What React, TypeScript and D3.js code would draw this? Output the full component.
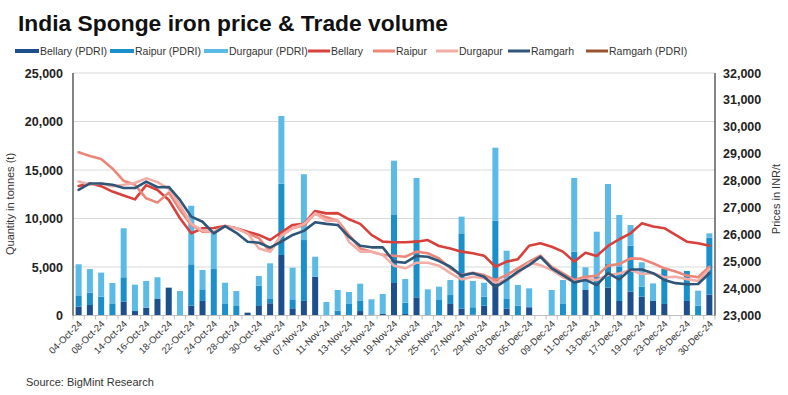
import React, { useEffect, useRef } from 'react';
import * as d3 from 'd3';

// trading days, one bar per day
const dates = [
  '04-Oct-24', '07-Oct-24', '08-Oct-24', '10-Oct-24', '14-Oct-24', '15-Oct-24', '16-Oct-24', '17-Oct-24',
  '18-Oct-24', '21-Oct-24', '22-Oct-24', '23-Oct-24', '24-Oct-24', '25-Oct-24', '28-Oct-24', '29-Oct-24',
  '30-Oct-24', '4-Nov-24', '5-Nov-24', '6-Nov-24', '07-Nov-24', '08-Nov-24', '11-Nov-24', '12-Nov-24',
  '13-Nov-24', '14-Nov-24', '15-Nov-24', '18-Nov-24', '19-Nov-24', '20-Nov-24', '21-Nov-24', '22-Nov-24',
  '25-Nov-24', '26-Nov-24', '27-Nov-24', '28-Nov-24', '29-Nov-24', '02-Dec-24', '03-Dec-24', '04-Dec-24',
  '05-Dec-24', '06-Dec-24', '09-Dec-24', '10-Dec-24', '11-Dec-24', '12-Dec-24', '13-Dec-24', '16-Dec-24',
  '17-Dec-24', '18-Dec-24', '19-Dec-24', '20-Dec-24', '23-Dec-24', '24-Dec-24', '26-Dec-24', '27-Dec-24',
  '30-Dec-24',
];

// trade volume (t)
const bellaryQty = [
  910, 1080, 0, 0, 1430, 460, 800, 1700, 2870, 0, 1010, 1500, 0, 0, 0, 290,
  980, 1260, 6240, 740, 1500, 4000, 0, 0, 0, 460, 100, 160, 3350, 160, 1870, 0,
  0, 1190, 700, 100, 1010, 3660, 700, 0, 850, 0, 0, 0, 0, 2630, 0, 2870,
  1500, 2460, 1940, 1500, 1190, 0, 1500, 0, 2150,
];
const raipurQty = [
  1100, 1270, 1940, 1190, 2510, 0, 0, 0, 0, 0, 4270, 1200, 4790, 1190, 980, 0,
  2090, 440, 7350, 930, 6280, 0, 0, 500, 1190, 1040, 0, 0, 7010, 1160, 5980, 0,
  1600, 920, 7770, 750, 930, 6120, 1000, 1010, 0, 0, 0, 1190, 6580, 0, 4000, 2430,
  3500, 4740, 1030, 0, 3600, 0, 3090, 1010, 5870,
];
const durgapurQty = [
  3270, 2440, 2480, 2160, 5050, 2720, 2760, 2240, 0, 2520, 6040, 1990, 3910, 2190, 1540, 0,
  1000, 3680, 6980, 3260, 6780, 2060, 1390, 2130, 1230, 1780, 1570, 2060, 5600, 2440, 6330, 2700,
  1370, 1550, 1720, 2710, 1440, 7520, 4980, 2140, 1950, 0, 2630, 2470, 7600, 2340, 4640, 8260,
  5360, 2130, 2510, 1810, 0, 0, 0, 1550, 450,
];

// prices (INR/t)
const bellaryPrice = [
  27810, 27900, 27800, 27600, 27450, 27310, 27840, 27660, 27290, 26610, 26050, 26240, 26250, 26320, 26240, 26110,
  25990, 25800, 26090, 26360, 26400, 26880, 26790, 26800, 26570, 26400, 25990, 25740, 25720, 25720, 25740, 25800,
  25580, 25490, 25370, 25310, 25220, 24810, 25000, 25090, 25590, 25680, 25550, 25370, 25000, 25330, 25210, 25580,
  25830, 26050, 26420, 26300, 26240, 25990, 25740, 25680, 25590,
];
const raipurPrice = [
  29060, 28920, 28810, 28460, 28000, 27850, 27350, 27190, 27560, 26920, 26360, 26110, 26100, 26320, 26240, 26050,
  25870, 25370, 25990, 26240, 26350, 26790, 26650, 26520, 25990, 25490, 25370, 25250, 25220, 25180, 25370, 25310,
  25120, 24750, 24500, 24590, 24500, 24320, 24500, 24750, 25000, 25220, 24800, 24560, 24320, 24440, 24470, 24850,
  24910, 25120, 25100, 24940, 24750, 24630, 24480, 24420, 24810,
];
const durgapurPrice = [
  27970, 27850, 27900, 27800, 27850, 27920, 28090, 27950, 27700, 27100, 26400, 26150, 26100, 26300, 26240, 26050,
  25490, 25370, 25950, 26240, 26400, 26790, 26520, 26520, 25740, 25370, 25370, 25250, 24850, 24750, 24960, 24960,
  24850, 24570, 24340, 24440, 24380, 24220, 24340, 24570, 24960, 24870, 24690, 24420, 24260, 24350, 24320, 24500,
  24560, 24690, 24540, 24570, 24420, 24440, 24350, 24280, 24730,
];
const ramgarhPrice = [
  27660, 27900, 27900, 27850, 27730, 27730, 27970, 27760, 27770, 27290, 26670, 26480, 26050, 26320, 26070, 25740,
  25700, 25520, 25740, 25990, 26140, 26460, 26400, 26360, 25920, 25590, 25530, 25530, 25000, 24960, 25210, 25180,
  25020, 24810, 24480, 24570, 24440, 24050, 24320, 24630, 24870, 25180, 24750, 24500, 24230, 24320, 24130, 24570,
  24340, 24710, 24710, 24570, 24320, 24200, 24160, 24170, 24570,
];

const leftTicks = [0, 5000, 10000, 15000, 20000, 25000];
const rightTicks = [23000, 24000, 25000, 26000, 27000, 28000, 29000, 30000, 31000, 32000];

const barSeries = [
  { name: 'Bellary (PDRI)', values: bellaryQty, color: '#1d4f8c' },
  { name: 'Raipur (PDRI)', values: raipurQty, color: '#1b8fca' },
  { name: 'Durgapur (PDRI)', values: durgapurQty, color: '#5bbbe6' },
];
const lineSeries = [
  { name: 'Bellary', values: bellaryPrice, color: '#d8403b' },
  { name: 'Raipur', values: raipurPrice, color: '#ec8679' },
  { name: 'Durgapur', values: durgapurPrice, color: '#f2aea6' },
  { name: 'Ramgarh', values: ramgarhPrice, color: '#2f5679' },
];

const legendItems = [
  { name: 'Bellary (PDRI)', color: '#1d4f8c', x: 15 },
  { name: 'Raipur (PDRI)', color: '#1b8fca', x: 110 },
  { name: 'Durgapur (PDRI)', color: '#5bbbe6', x: 204 },
  { name: 'Bellary', color: '#d8403b', x: 308 },
  { name: 'Raipur', color: '#ec8679', x: 373 },
  { name: 'Durgapur', color: '#f2aea6', x: 436 },
  { name: 'Ramgarh', color: '#2f5679', x: 508 },
  { name: 'Ramgarh (PDRI)', color: '#9a5530', x: 586 },
];

const W = 788, H = 395;
const M = { left: 73, right: 715, top: 73, bottom: 315.5 };
const FONT = 'Arial, "Liberation Sans", sans-serif';

const App: React.FC = () => {
  const ref = useRef<SVGSVGElement>(null);

  useEffect(() => {
    if (!ref.current) return;
    const svg = d3.select(ref.current);
    svg.selectAll('*').remove();

    const x = d3.scaleBand<string>().domain(dates).range([M.left, M.right]).padding(0);
    const yL = d3.scaleLinear().domain([0, 25000]).range([M.bottom, M.top]);
    const yR = d3.scaleLinear().domain([23000, 32000]).range([M.bottom, M.top]);
    const cx = (d: string) => (x(d) ?? 0) + x.bandwidth() / 2;

    // title
    svg.append('text').attr('x', 18).attr('y', 31)
      .attr('font-family', FONT).attr('font-weight', 700).attr('font-size', 22)
      .attr('textLength', 430).attr('lengthAdjust', 'spacingAndGlyphs')
      .attr('fill', '#111').text('India Sponge iron price & Trade volume');

    // legend
    const lg = svg.append('g').attr('font-family', FONT).attr('font-size', 10.5).attr('fill', '#333');
    legendItems.forEach((it, i) => {
      lg.append('rect').attr('x', it.x).attr('y', i < 3 ? 49 : 49.5).attr('width', i < 3 ? 24 : 22)
        .attr('height', i < 3 ? 4 : 3).attr('fill', it.color);
      lg.append('text').attr('x', it.x + (i < 3 ? 25 : 23)).attr('y', 55).text(it.name);
    });

    // gridlines
    svg.append('g').selectAll('line').data(leftTicks.slice(1)).join('line')
      .attr('x1', M.left).attr('x2', M.right)
      .attr('y1', (d) => yL(d)).attr('y2', (d) => yL(d))
      .attr('stroke', '#d9d9d9').attr('stroke-width', 1);

    // stacked bars
    const rows = dates.map((d, i) => ({
      date: d,
      b: bellaryQty[i], r: raipurQty[i], g: durgapurQty[i],
    }));
    const stack = d3.stack<any>().keys(['b', 'r', 'g'])(rows);
    const bw = 6;
    stack.forEach((layer, li) => {
      svg.append('g').attr('fill', barSeries[li].color)
        .selectAll('rect').data(layer).join('rect')
        .attr('x', (d: any) => cx(d.data.date) - bw / 2)
        .attr('width', bw)
        .attr('y', (d: any) => yL(d[1]))
        .attr('height', (d: any) => Math.max(0, yL(d[0]) - yL(d[1])));
    });

    // lines
    lineSeries.forEach((s) => {
      const line = d3.line<number>()
        .x((_, i) => cx(dates[i]))
        .y((v) => yR(v));
      svg.append('path').datum(s.values).attr('d', line)
        .attr('fill', 'none').attr('stroke', s.color).attr('stroke-width', 2.6)
        .attr('stroke-linejoin', 'round').attr('stroke-linecap', 'round');
    });

    // axes lines
    svg.append('line').attr('x1', M.left).attr('x2', M.right).attr('y1', M.bottom).attr('y2', M.bottom)
      .attr('stroke', '#bfbfbf');
    svg.append('g').selectAll('line').data(dates.concat(['end'])).join('line')
      .attr('x1', (_, i) => M.left + i * x.bandwidth()).attr('x2', (_, i) => M.left + i * x.bandwidth())
      .attr('y1', M.bottom).attr('y2', M.bottom + 4).attr('stroke', '#bfbfbf');
    svg.append('line').attr('x1', M.left).attr('x2', M.left).attr('y1', M.top).attr('y2', M.bottom)
      .attr('stroke', '#333').attr('stroke-width', 1.2);
    svg.append('line').attr('x1', M.right).attr('x2', M.right).attr('y1', M.top).attr('y2', M.bottom)
      .attr('stroke', '#333').attr('stroke-width', 1.2);

    // left tick labels
    svg.append('g').attr('font-family', FONT).attr('font-weight', 700).attr('font-size', 12.5).attr('fill', '#222')
      .selectAll('text').data(leftTicks).join('text')
      .attr('x', 63).attr('y', (d) => yL(d) + 4.5).attr('text-anchor', 'end')
      .text((d) => d3.format(',')(d));

    // right tick labels
    svg.append('g').attr('font-family', FONT).attr('font-weight', 700).attr('font-size', 12.5).attr('fill', '#222')
      .selectAll('text').data(rightTicks).join('text')
      .attr('x', 723).attr('y', (d) => yR(d) + 4.5)
      .text((d) => d3.format(',')(d));

    // x labels (every other day)
    svg.append('g').attr('font-family', FONT).attr('font-size', 9.5).attr('fill', '#333')
      .selectAll('text').data(dates.filter((_, i) => i % 2 === 0)).join('text')
      .attr('text-anchor', 'end')
      .attr('transform', (d) => `translate(${cx(d) + 4},${M.bottom + 9}) rotate(-45)`)
      .text((d) => d);

    // axis titles
    svg.append('text').attr('transform', `translate(14,${204}) rotate(-90)`)
      .attr('text-anchor', 'middle').attr('font-family', FONT).attr('font-size', 11).attr('fill', '#333')
      .text('Quantity in tonnes (t)');
    svg.append('text').attr('transform', `translate(780,${199}) rotate(-90)`)
      .attr('text-anchor', 'middle').attr('font-family', FONT).attr('font-size', 11).attr('fill', '#333')
      .text('Prices in INR/t');

    // source
    svg.append('text').attr('x', 26).attr('y', 386).attr('font-family', FONT).attr('font-size', 11)
      .attr('fill', '#333').text('Source: BigMint Research');
  }, []);

  return (
    <svg ref={ref} width={W} height={H}
      style={{ position: 'absolute', left: 0, top: 0, background: '#fff', display: 'block' }} />
  );
};

export default App;
